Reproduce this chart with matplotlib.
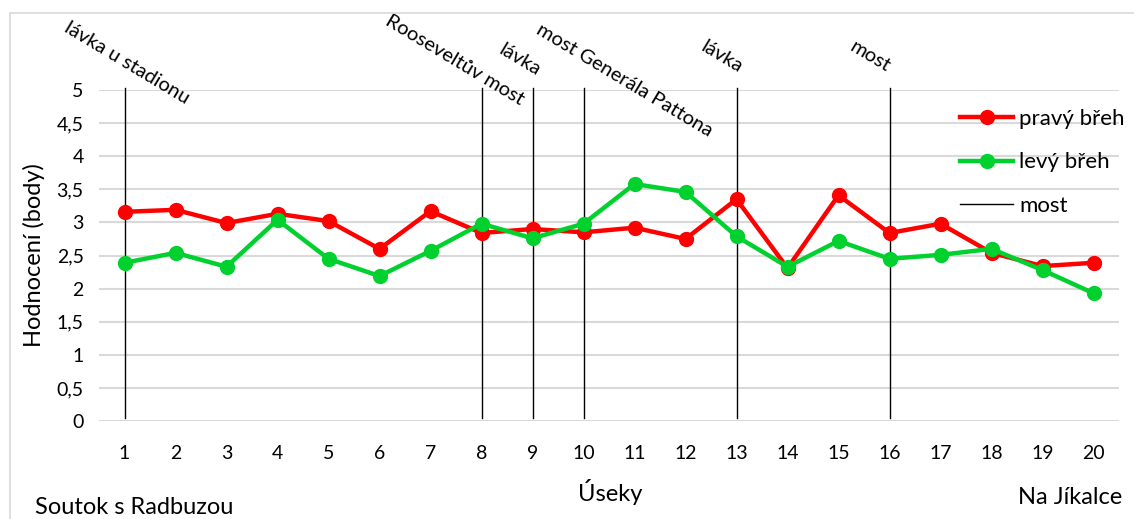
import matplotlib.pyplot as plt
from matplotlib.patches import Rectangle

plt.rcParams['font.family'] = ['Lato', 'DejaVu Sans']

# Data
useky = list(range(1, 21))
pravy_breh = [3.16, 3.19, 2.99, 3.13, 3.02, 2.60, 3.17, 2.84, 2.90, 2.85,
              2.92, 2.75, 3.35, 2.31, 3.41, 2.84, 2.98, 2.54, 2.34, 2.39]
levy_breh = [2.39, 2.54, 2.33, 3.04, 2.45, 2.19, 2.57, 2.98, 2.76, 2.98,
             3.58, 3.46, 2.79, 2.33, 2.72, 2.45, 2.51, 2.60, 2.28, 1.93]
mosty_x = [1, 8, 9, 10, 13, 16]
mosty_nazvy = ["lávka u stadionu", "Rooseveltův most", "lávka",
               "most Generála Pattona", "lávka", "most"]
# label centre offsets (data units) relative to the bridge line top
label_dx = [0.04, -0.52, -0.25, 0.81, -0.28, -0.38]
label_dy = [0.41, 0.45, 0.45, 0.15, 0.50, 0.50]

fig = plt.figure(figsize=(11.34, 5.19), dpi=100)
fig.patches.append(Rectangle((10 / 1134, -0.1), 1.2, 1.1 - 13 / 519,
                             transform=fig.transFigure, fill=False,
                             edgecolor='#d9d9d9', linewidth=1.2))
ax = fig.add_axes([99 / 1134, 98 / 519, 1020 / 1134, 331 / 519])

ax.set_xlim(0.5, 20.5)
ax.set_ylim(0, 5)
ax.set_yticks([0, 0.5, 1, 1.5, 2, 2.5, 3, 3.5, 4, 4.5, 5])
ax.set_yticklabels(['0', '0,5', '1', '1,5', '2', '2,5', '3', '3,5', '4', '4,5', '5'])
ax.set_xticks(useky)
ax.tick_params(axis='both', length=0, labelsize=14)
ax.tick_params(axis='x', pad=17)
ax.tick_params(axis='y', pad=11)
ax.grid(axis='y', color='#d9d9d9', linewidth=1.5)
ax.set_axisbelow(True)
for s in ax.spines.values():
    s.set_visible(False)

# bridges
for i, (xm, name) in enumerate(zip(mosty_x, mosty_nazvy)):
    ax.plot([xm, xm], [0.05, 5.03], color='black', linewidth=1,
            clip_on=False, label='most' if i == 0 else None, zorder=3)
    ax.text(xm + label_dx[i], 5 + label_dy[i], name, rotation=-31,
            rotation_mode='anchor', ha='center', va='center', fontsize=14.5)

ax.plot(useky, pravy_breh, color='#ff0000', linewidth=3.2, marker='o',
        markersize=10, label='pravý břeh', zorder=4)
ax.plot(useky, levy_breh, color='#00d12e', linewidth=3.2, marker='o',
        markersize=10, label='levý břeh', zorder=5)

handles, labels = ax.get_legend_handles_labels()
order = [1, 2, 0]
ax.legend([handles[i] for i in order], [labels[i] for i in order],
          loc='upper left', bbox_to_anchor=(960 / 1134, 1 - 109 / 519),
          bbox_transform=fig.transFigure, frameon=False, fontsize=16,
          handlelength=2.4, handletextpad=0.25, labelspacing=1.05,
          borderaxespad=0, borderpad=0)

ax.set_ylabel('Hodnocení (body)', fontsize=17, labelpad=8)
fig.text(610 / 1134, 1 - 492 / 519, 'Úseky', ha='center', va='center', fontsize=17)
fig.text(35 / 1134, 1 - 507 / 519, 'Soutok s Radbuzou', ha='left', va='center', fontsize=17)
fig.text(1122 / 1134, 1 - 497 / 519, 'Na Jíkalce', ha='right', va='center', fontsize=17)

fig.savefig('out.png', dpi=100)
